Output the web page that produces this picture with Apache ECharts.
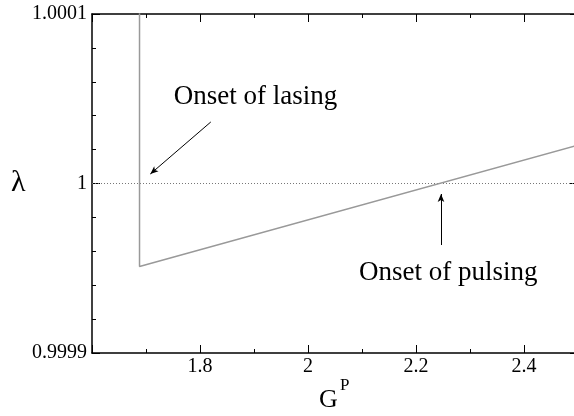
<!DOCTYPE html>
<html lang="en">
  <head>
    <meta charset="UTF-8" />
    <title>lambda vs G^P</title>
    <style>
      * {
        padding: 0;
        margin: 0;
      }
      html,
      body {
        width: 100%;
        height: 100%;
        background: #fff;
      }
      #main {
        width: 574px;
        height: 416px;
      }
    </style>
  </head>
  <body>
    <div id="main"></div>
    <script src="https://cdn.jsdelivr.net/npm/echarts@6/dist/echarts.min.js"></script>
    <script>
      // curve: vertical drop at lasing threshold, then linear rise
      var gpVals = [1.688, 1.688, 2.5];
      var lambdaVals = [1.0002, 0.999951, 1.0000226];
      // reference level lambda = 1
      var refGp = [1.6, 2.5];
      var refLambda = [1, 1];
      // annotations [gp, lambda]
      var lasingArrow = [[1.82, 1.0000363], [1.708, 1.0000056]];
      var pulsingArrow = [[2.2463, 0.9999637], [2.2463, 0.9999938]];
      var lasingText = [1.7515, 1.0000469];
      var pulsingText = [2.0944, 0.9999431];

      var serif = 'Liberation Serif';
      var myChart = echarts.init(document.getElementById('main'));

      function xAxisCfg(pos, showLabel) {
        return {
          type: 'value',
          position: pos,
          min: 1.6,
          max: 2.5,
          interval: 0.2,
          axisLine: {show: true, onZero: false, lineStyle: {color: '#000', width: 1.5}},
          axisTick: {show: true, inside: true, length: 8, lineStyle: {color: '#000'}},
          minorTick: {show: true, splitNumber: 2, length: 4, lineStyle: {color: '#000'}},
          splitLine: {show: false},
          minorSplitLine: {show: false},
          axisLabel: {
            show: showLabel,
            margin: 4,
            showMinLabel: false,
            showMaxLabel: false,
            color: '#000',
            fontFamily: serif,
            fontSize: 20,
            formatter: function(v) {
              return String(+v.toFixed(1));
            },
          },
        };
      }

      function yAxisCfg(pos, showLabel) {
        return {
          type: 'value',
          position: pos,
          min: 0.9999,
          max: 1.0001,
          interval: 0.0001,
          axisLine: {show: true, onZero: false, lineStyle: {color: '#000', width: 1.5}},
          axisTick: {show: true, inside: true, length: 8, lineStyle: {color: '#000'}},
          minorTick: {show: true, splitNumber: 5, length: 4, lineStyle: {color: '#000'}},
          splitLine: {show: false},
          minorSplitLine: {show: false},
          axisLabel: {
            show: showLabel,
            margin: 5,
            color: '#000',
            fontFamily: serif,
            fontSize: 20,
            formatter: function(v) {
              return String(+v.toFixed(4));
            },
          },
        };
      }

      var arrowStyle = {color: '#000', width: 1, type: 'solid'};

      var option = {
        animation: false,
        backgroundColor: '#fff',
        grid: {left: 92, right: -4, top: 14, bottom: 63, outerBoundsMode: 'none'},
        xAxis: [xAxisCfg('bottom', true), xAxisCfg('top', false)],
        yAxis: [yAxisCfg('left', true), yAxisCfg('right', false)],
        series: [
          {
            name: 'ref',
            type: 'line',
            data: refGp.map((g, i) => [g, refLambda[i]]),
            symbol: 'none',
            lineStyle: {color: '#777', width: 1, type: [1, 2]},
            silent: true,
            markLine: {
              silent: true,
              symbol: ['none', 'arrow'],
              symbolSize: [5, 8],
              label: {show: false},
              lineStyle: arrowStyle,
              data: [
                [{coord: lasingArrow[0]}, {coord: lasingArrow[1]}],
                [{coord: pulsingArrow[0]}, {coord: pulsingArrow[1]}],
              ],
            },
          },
          {
            name: 'lambda',
            type: 'line',
            data: gpVals.map((g, i) => [g, lambdaVals[i]]),
            symbol: 'none',
            clip: true,
            lineStyle: {color: '#999', width: 1.5},
          },
        ],
      };
      myChart.setOption(option);

      // text annotations placed by data coordinates
      var p1 = myChart.convertToPixel({gridIndex: 0}, lasingText);
      var p2 = myChart.convertToPixel({gridIndex: 0}, pulsingText);
      function label(x, y, text, size, valign) {
        return {
          type: 'text',
          x: x,
          y: y,
          style: {
            text: text,
            fontFamily: serif,
            fontSize: size,
            fill: '#000',
            verticalAlign: valign,
          },
        };
      }
      myChart.setOption({
        graphic: [
          label(p1[0], p1[1] + 6, 'Onset of lasing', 27, 'bottom'),
          label(p2[0], p2[1] + 6, 'Onset of pulsing', 27, 'bottom'),
          label(11, 183, 'λ', 30, 'middle'),
          label(319, 413, 'G', 26, 'bottom'),
          label(340, 394, 'P', 17, 'bottom'),
        ],
      });
    </script>
  </body>
</html>
